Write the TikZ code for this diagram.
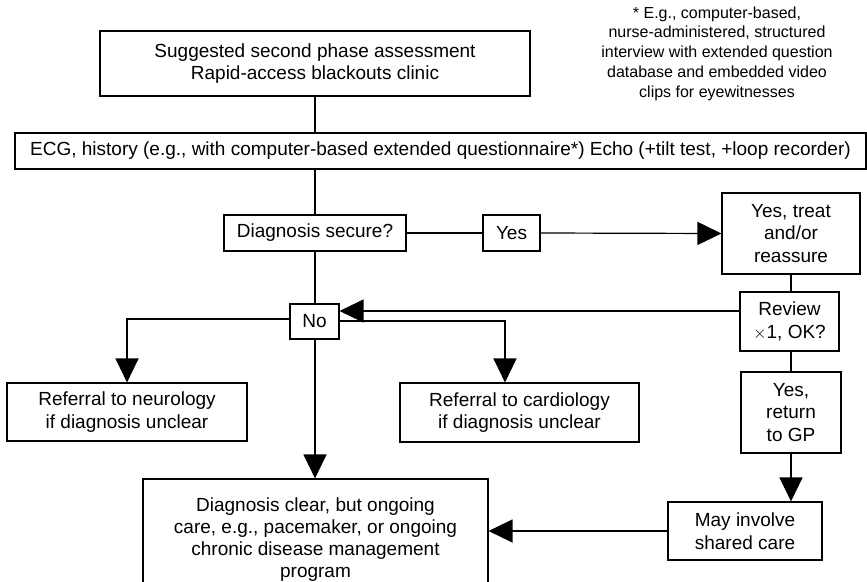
\documentclass[tikz,border=0pt]{standalone}
\usepackage{fontspec}
\setmainfont{Liberation Sans}
\usetikzlibrary{arrows.meta,calc}
\begin{document}
\begin{tikzpicture}[x=1pt,y=-1pt,
  box/.style={draw, line width=1.1pt, align=center, inner sep=2pt,
    font=\fontsize{19}{22.5}\selectfont},
  link/.style={line width=1.2pt},
  arr/.style={link, -{Triangle[length=24pt,width=23pt]}}]
\useasboundingbox (0,0) rectangle (867,581);
\clip (0,0) rectangle (867,581);

% boxes
\node[box, minimum width=430pt, minimum height=65pt] (top) at (315,63.5)
  {Suggested second phase assessment\\Rapid-access blackouts clinic};
\node[box, minimum width=851pt, minimum height=36pt] (ecg) at (440.5,151)
  {ECG, history (e.g., with computer-based extended questionnaire*) Echo (+tilt test, +loop recorder)};
\node[box, minimum width=182pt, minimum height=36pt] (secure) at (315,233)
  {Diagnosis secure?};
\node[box, minimum width=57pt, minimum height=36pt] (yes) at (511.5,233) {Yes};
\node[box, minimum width=138pt, minimum height=81pt] (treat) at (791,233.5)
  {Yes, treat\\and/or\\reassure};
\node[box, minimum width=99pt, minimum height=59pt] (review) at (789.5,321.5)
  {Review\\$\times$1, OK?};
\node[box, minimum width=100pt, minimum height=81pt] (ret) at (791,412.5)
  {Yes,\\return\\to GP};
\node[box, minimum width=154pt, minimum height=58pt] (may) at (745,531)
  {May involve\\shared care};
\node[box, minimum width=345pt, minimum height=121pt,
  font=\fontsize{19}{21.8}\selectfont] (clear) at (315.5,539.5)
  {Diagnosis clear, but ongoing\\care, e.g., pacemaker, or ongoing\\chronic disease management\\program};
\node[box, minimum width=49pt, minimum height=35pt] (no) at (314.5,321.5) {No};
\node[box, minimum width=240pt, minimum height=58pt] (neuro) at (127,412)
  {Referral to neurology\\if diagnosis unclear};
\node[box, minimum width=239pt, minimum height=59pt] (cardio) at (519.5,412.5)
  {Referral to cardiology\\if diagnosis unclear};

% footnote
\node[align=center, inner sep=0pt, font=\fontsize{16}{19.7}\selectfont] (note) at (717,53.5)
  {* E.g., computer-based,\\nurse-administered, structured\\interview with extended question\\database and embedded video\\clips for eyewitnesses};

% connectors
\draw[link] (top.south) -- (top.south |- ecg.north);
\draw[link] (secure.north |- ecg.south) -- (secure.north);
\draw[link] (secure.east) -- (yes.west);
\draw[arr] (yes.east) -- (treat.west);
\draw[link] (treat.south) -- (treat.south |- review.north);
\draw[link] (ret.north |- review.south) -- (ret.north);
\draw[arr] (ret.south) -- (ret.south |- may.north);
\draw[arr] (may.west) -- (may.west -| clear.east);
\draw[link] (secure.south) -- (secure.south |- no.north);
\draw[arr] ([yshift=10.5pt]review.west) -- ([yshift=10.5pt]no.east);
\draw[arr] ([yshift=2.5pt]no.west) -| (neuro.north);
\draw[arr] ([yshift=0.5pt]no.east) -| ([xshift=-14.5pt]cardio.north);
\draw[arr] (secure.south |- no.south) -- (secure.south |- clear.north);
\end{tikzpicture}
\end{document}
